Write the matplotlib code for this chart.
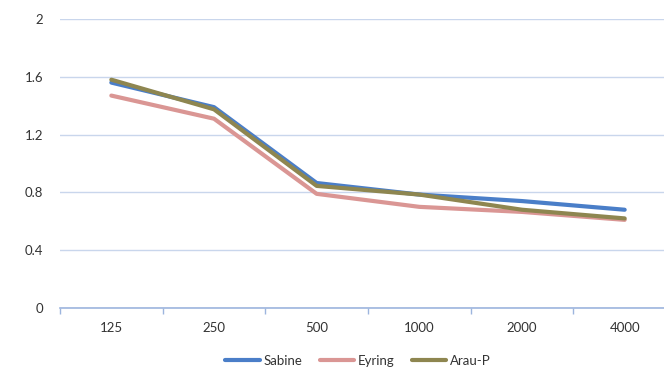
import matplotlib
matplotlib.use("Agg")
import matplotlib.pyplot as plt
import numpy as np

categories = ["125", "250", "500", "1000", "2000", "4000"]
sabine = [1.56, 1.39, 0.865, 0.785, 0.74, 0.68]
eyring = [1.47, 1.31, 0.79, 0.70, 0.665, 0.61]
arau_p = [1.58, 1.375, 0.845, 0.785, 0.68, 0.62]
y_ticks = [0, 0.4, 0.8, 1.2, 1.6, 2]
y_tick_labels = ["0", "0.4", "0.8", "1.2", "1.6", "2"]

plt.rcParams['font.family'] = ['Lato', 'DejaVu Sans']

W, H = 664, 369
fig = plt.figure(figsize=(W / 100, H / 100), dpi=100)
ax = fig.add_axes([60 / W, (H - 308) / H, 616 / W, 289 / H])

x = np.arange(len(categories))
ax.plot(x, sabine, color="#4A7EC8", lw=3.0, solid_capstyle="round", label="Sabine", zorder=3)
ax.plot(x, eyring, color="#DA9694", lw=3.0, solid_capstyle="round", label="Eyring", zorder=3)
ax.plot(x, arau_p, color="#8E8650", lw=3.0, solid_capstyle="round", label="Arau-P", zorder=4)

ax.set_xlim(-0.5, len(categories) - 0.5)
ax.set_ylim(0, 2)
ax.set_yticks(y_ticks)
ax.set_yticklabels(y_tick_labels)
ax.set_xticks(x)
ax.set_xticklabels(categories)
ax.set_xticks(np.arange(len(categories) + 1) - 0.5, minor=True)

for s in ["top", "right", "left"]:
    ax.spines[s].set_visible(False)
ax.spines["bottom"].set_color("#9DB5DE")
ax.spines["bottom"].set_linewidth(1.2)

ax.grid(axis="y", color="#C9D6EC", lw=1.0)
ax.set_axisbelow(True)
ax.tick_params(axis="y", length=0, pad=12, labelsize=9.5, labelcolor="#333333")
ax.tick_params(axis="x", which="major", length=0, pad=10, labelsize=9.5, labelcolor="#333333")
ax.tick_params(axis="x", which="minor", length=4, color="#9DB5DE", width=1)

leg = fig.legend(loc="center", bbox_to_anchor=(358 / W, (H - 361) / H), ncol=3,
                 frameon=False, fontsize=9.5, handlelength=2.6, handletextpad=0.3,
                 columnspacing=1.3)
for t in leg.get_texts():
    t.set_color("#333333")

fig.savefig("out.png", dpi=100)
